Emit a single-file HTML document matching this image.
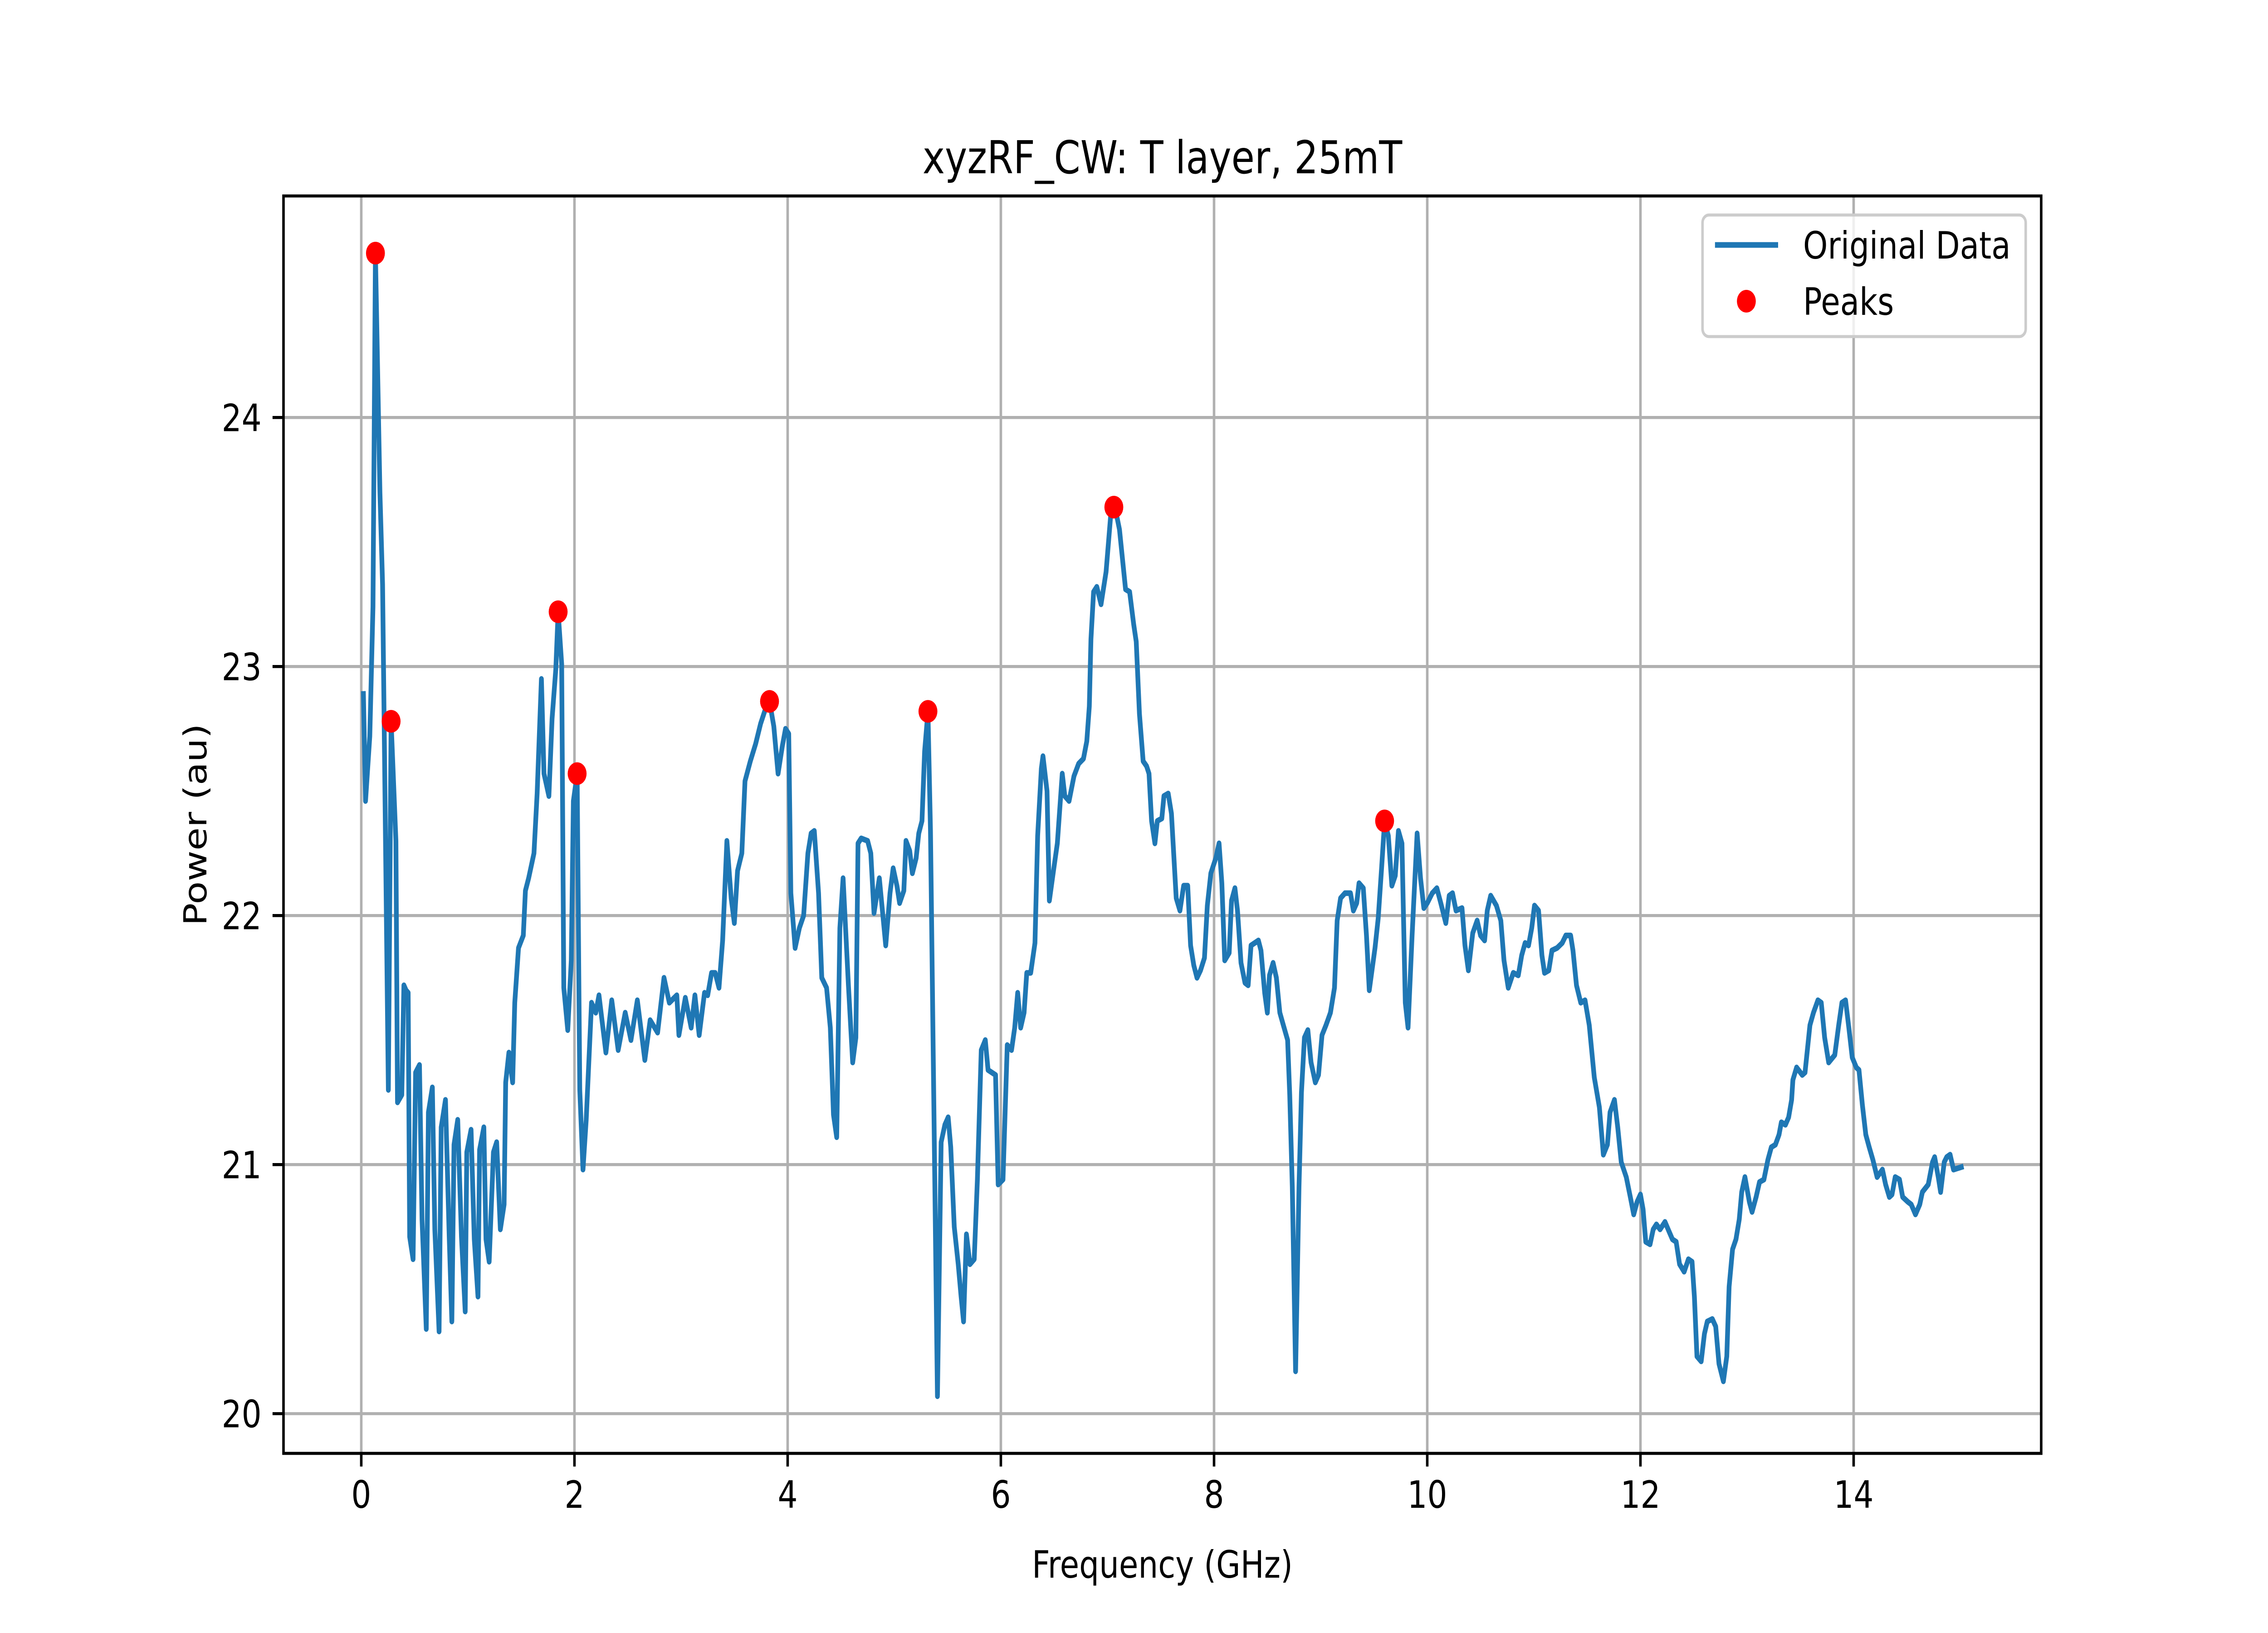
<!DOCTYPE html>
<html><head><meta charset="utf-8"><style>html,body{margin:0;padding:0;background:#fff;overflow:hidden;width:100%;height:100%}svg{display:block;width:100vw;height:100vh}</style></head>
<body>
<svg id="chart" xmlns="http://www.w3.org/2000/svg" viewBox="0 0 6000 3600" preserveAspectRatio="none" font-family="'DejaVu Sans','Liberation Sans',sans-serif">
<rect x="0" y="0" width="6000" height="3600" fill="#fff"/>
<text x="3075" y="382" font-size="100" text-anchor="middle">xyzRF_CW: T layer, 25mT</text>
<g id="grid"></g>
<g id="ticks"></g>
<g id="plot"></g>
<rect x="750" y="432" width="4650" height="2772" fill="none" stroke="#000" stroke-width="6.7"/>
<text x="3075" y="3478" font-size="83" text-anchor="middle">Frequency (GHz)</text>
<text x="0" y="0" font-size="83" text-anchor="middle" transform="translate(546,1818) rotate(-90)">Power (au)</text>
<g>
<rect x="4504" y="474" width="855" height="268" rx="17" fill="#fff" fill-opacity="0.8" stroke="#cccccc" stroke-width="6.7"/>
<line x1="4537" y1="540" x2="4704" y2="540" stroke="#1f77b4" stroke-width="12.5"/>
<text x="4770" y="570" font-size="83">Original Data</text>
<circle cx="4620" cy="664" r="25" fill="#ff0000"/>
<text x="4770" y="694" font-size="83">Peaks</text>
</g>
</svg>
<script>
const freqs = [0.02,0.04,0.08,0.11,0.133,0.175,0.2,0.254,0.28,0.325,0.34,0.38,0.40,0.42,0.44,0.454,0.486,0.51,0.546,0.57,0.61,0.63,0.667,0.69,0.73,0.75,0.79,0.825,0.85,0.87,0.905,0.94,0.975,0.99,1.03,1.06,1.095,1.11,1.15,1.17,1.20,1.24,1.27,1.305,1.34,1.355,1.385,1.42,1.44,1.475,1.52,1.54,1.57,1.62,1.65,1.69,1.714,1.76,1.79,1.825,1.847,1.88,1.90,1.937,1.97,1.99,2.025,2.05,2.08,2.11,2.16,2.2,2.23,2.295,2.35,2.41,2.476,2.53,2.59,2.66,2.71,2.78,2.84,2.89,2.96,2.98,3.04,3.095,3.13,3.17,3.22,3.25,3.286,3.32,3.356,3.39,3.43,3.47,3.50,3.53,3.57,3.60,3.65,3.70,3.746,3.80,3.83,3.87,3.91,3.95,3.98,4.01,4.03,4.07,4.11,4.15,4.19,4.22,4.25,4.29,4.32,4.365,4.40,4.43,4.46,4.49,4.52,4.57,4.61,4.64,4.66,4.69,4.75,4.78,4.81,4.86,4.92,4.96,4.99,5.025,5.05,5.09,5.11,5.145,5.17,5.205,5.23,5.26,5.285,5.316,5.34,5.405,5.44,5.475,5.506,5.53,5.563,5.60,5.627,5.65,5.677,5.71,5.75,5.78,5.816,5.854,5.88,5.95,5.975,6.02,6.06,6.10,6.13,6.158,6.186,6.218,6.243,6.28,6.32,6.345,6.38,6.395,6.433,6.455,6.497,6.53,6.576,6.60,6.64,6.686,6.73,6.775,6.806,6.83,6.845,6.87,6.90,6.94,6.987,7.035,7.06,7.08,7.113,7.17,7.208,7.246,7.27,7.30,7.335,7.367,7.39,7.414,7.445,7.468,7.51,7.53,7.57,7.60,7.645,7.68,7.715,7.753,7.78,7.81,7.84,7.873,7.91,7.937,7.97,8.016,8.047,8.073,8.10,8.142,8.164,8.196,8.22,8.253,8.29,8.32,8.347,8.416,8.44,8.475,8.50,8.52,8.554,8.585,8.617,8.65,8.69,8.71,8.734,8.765,8.797,8.82,8.848,8.88,8.91,8.95,8.98,9.013,9.05,9.092,9.13,9.155,9.187,9.228,9.28,9.307,9.338,9.36,9.40,9.43,9.456,9.51,9.54,9.573,9.60,9.635,9.668,9.70,9.73,9.763,9.794,9.82,9.858,9.905,9.937,9.968,10.0,10.047,10.09,10.127,10.174,10.206,10.237,10.27,10.326,10.354,10.386,10.427,10.468,10.50,10.538,10.563,10.595,10.649,10.69,10.72,10.76,10.807,10.854,10.886,10.918,10.95,10.98,11.006,11.044,11.076,11.10,11.14,11.17,11.218,11.266,11.30,11.345,11.367,11.40,11.44,11.48,11.52,11.567,11.615,11.652,11.69,11.715,11.756,11.787,11.82,11.867,11.905,11.937,11.968,12.0,12.025,12.05,12.09,12.12,12.15,12.184,12.23,12.27,12.30,12.335,12.367,12.41,12.45,12.484,12.506,12.53,12.57,12.60,12.627,12.674,12.706,12.737,12.778,12.81,12.832,12.864,12.896,12.927,12.95,12.98,13.022,13.047,13.085,13.117,13.158,13.196,13.228,13.266,13.30,13.322,13.36,13.39,13.418,13.43,13.465,13.518,13.544,13.59,13.623,13.665,13.696,13.728,13.766,13.823,13.86,13.89,13.924,13.955,13.987,14.025,14.05,14.082,14.114,14.146,14.18,14.22,14.27,14.30,14.335,14.36,14.39,14.43,14.46,14.51,14.54,14.58,14.62,14.645,14.70,14.74,14.76,14.794,14.816,14.85,14.873,14.905,14.937,15.01];
const power = [22.89,22.46,22.72,23.24,24.66,23.70,23.33,21.30,22.78,22.30,21.25,21.28,21.72,21.70,21.69,20.71,20.62,21.37,21.40,20.78,20.34,21.21,21.31,20.74,20.33,21.15,21.26,20.71,20.37,21.08,21.18,20.71,20.41,21.05,21.14,20.70,20.47,21.06,21.15,20.70,20.61,21.05,21.09,20.74,20.84,21.33,21.45,21.33,21.65,21.87,21.92,22.10,22.15,22.25,22.49,22.95,22.57,22.48,22.79,22.99,23.22,23.01,21.71,21.54,21.82,22.46,22.57,21.30,20.98,21.18,21.65,21.61,21.68,21.45,21.66,21.46,21.61,21.50,21.66,21.42,21.58,21.53,21.75,21.65,21.68,21.52,21.67,21.55,21.68,21.52,21.69,21.68,21.77,21.77,21.71,21.90,22.30,22.07,21.97,22.18,22.25,22.54,22.62,22.69,22.77,22.84,22.86,22.76,22.57,22.68,22.75,22.73,22.09,21.87,21.95,22.00,22.25,22.33,22.34,22.09,21.75,21.71,21.55,21.20,21.11,21.95,22.15,21.72,21.41,21.51,22.29,22.31,22.30,22.25,22.01,22.15,21.88,22.09,22.19,22.12,22.05,22.10,22.30,22.26,22.17,22.23,22.33,22.38,22.66,22.82,22.34,20.07,21.09,21.16,21.19,21.07,20.75,20.60,20.47,20.37,20.72,20.60,20.62,20.94,21.46,21.50,21.38,21.36,20.92,20.94,21.48,21.46,21.55,21.69,21.55,21.61,21.77,21.77,21.89,22.32,22.59,22.64,22.50,22.06,22.19,22.29,22.57,22.48,22.46,22.56,22.61,22.63,22.70,22.84,23.11,23.30,23.32,23.25,23.38,23.63,23.64,23.62,23.55,23.31,23.30,23.17,23.10,22.81,22.62,22.60,22.57,22.38,22.29,22.38,22.39,22.48,22.49,22.41,22.07,22.02,22.12,22.12,21.88,21.80,21.75,21.78,21.83,22.04,22.17,22.23,22.29,22.13,21.82,21.85,22.06,22.11,22.02,21.81,21.73,21.72,21.88,21.90,21.86,21.69,21.61,21.76,21.81,21.75,21.61,21.56,21.50,21.28,20.91,20.17,20.91,21.29,21.51,21.54,21.41,21.33,21.36,21.52,21.56,21.61,21.71,21.98,22.07,22.09,22.09,22.02,22.05,22.13,22.11,21.92,21.70,21.87,21.99,22.20,22.38,22.32,22.12,22.16,22.34,22.29,21.65,21.55,21.92,22.33,22.15,22.03,22.05,22.09,22.11,22.05,21.97,22.08,22.09,22.02,22.03,21.88,21.78,21.93,21.98,21.92,21.90,22.02,22.08,22.04,21.98,21.82,21.71,21.77,21.76,21.84,21.89,21.88,21.95,22.04,22.02,21.84,21.77,21.78,21.86,21.87,21.89,21.92,21.92,21.86,21.72,21.65,21.66,21.56,21.35,21.23,21.04,21.08,21.21,21.26,21.15,21.01,20.95,20.87,20.80,20.85,20.88,20.82,20.69,20.68,20.74,20.76,20.74,20.77,20.73,20.70,20.69,20.60,20.57,20.62,20.61,20.47,20.23,20.21,20.32,20.37,20.38,20.35,20.20,20.13,20.23,20.51,20.66,20.70,20.78,20.89,20.95,20.85,20.81,20.87,20.93,20.94,21.02,21.07,21.08,21.12,21.17,21.16,21.19,21.26,21.34,21.39,21.36,21.37,21.56,21.61,21.66,21.65,21.51,21.41,21.44,21.56,21.65,21.66,21.55,21.43,21.39,21.38,21.24,21.12,21.07,21.02,20.95,20.98,20.92,20.87,20.88,20.95,20.94,20.87,20.85,20.84,20.80,20.84,20.89,20.92,21.01,21.03,20.95,20.89,21.01,21.03,21.04,20.98,20.99];
const peakFreqs = [0.133,0.28,1.847,2.025,3.83,5.316,7.06,9.6];
const peakPower = [24.66,22.78,23.22,22.57,22.86,22.82,23.64,22.38];
const xTicks = [0,2,4,6,8,10,12,14];
const yTicks = [20,21,22,23,24];

const NS = 'http://www.w3.org/2000/svg';
const L = 750, R = 5400, T = 432, B = 3204;
const xmin0 = Math.min(...freqs), xmax0 = Math.max(...freqs);
const ymin0 = Math.min(...power, ...peakPower), ymax0 = Math.max(...power, ...peakPower);
const xm = (xmax0 - xmin0) * 0.05, ym = (ymax0 - ymin0) * 0.05;
const xlo = xmin0 - xm, xhi = xmax0 + xm, ylo = ymin0 - ym, yhi = ymax0 + ym;
function xs(v) { return L + (v - xlo) / (xhi - xlo) * (R - L); }
function ys(v) { return B - (v - ylo) / (yhi - ylo) * (B - T); }
function mk(tag, attrs, parent) {
  const e = document.createElementNS(NS, tag);
  for (const k in attrs) e.setAttribute(k, attrs[k]);
  parent.appendChild(e);
  return e;
}
const grid = document.getElementById('grid');
const ticks = document.getElementById('ticks');
const plot = document.getElementById('plot');
xTicks.forEach(function (t) {
  const x = xs(t);
  const g = mk('line', {x1: x, y1: T, x2: x, y2: B, stroke: '#b0b0b0', 'stroke-width': 6.7}, grid);
  
  
  const tk = mk('line', {x1: x, y1: B, x2: x, y2: B + 29, stroke: '#000', 'stroke-width': 6.7}, ticks);
  
  
  const tx = mk('text', {x: x, y: B + 58 + 62, 'font-size': 83, 'text-anchor': 'middle'}, ticks);
  tx.textContent = String(t);
  
  
});
yTicks.forEach(function (t) {
  const y = ys(t);
  const g = mk('line', {x1: L, y1: y, x2: R, y2: y, stroke: '#b0b0b0', 'stroke-width': 6.7}, grid);
  
  
  const tk = mk('line', {x1: L - 29, y1: y, x2: L, y2: y, stroke: '#000', 'stroke-width': 6.7}, ticks);
  
  
  const tx = mk('text', {x: L - 58, y: y + 30, 'font-size': 83, 'text-anchor': 'end'}, ticks);
  tx.textContent = String(t);
  
  
});
let d = '';
freqs.forEach(function (f, i) { d += (i ? 'L' : 'M') + xs(f).toFixed(1) + ',' + ys(power[i]).toFixed(1); });
const line = mk('path', {d: d, fill: 'none', stroke: '#1f77b4', 'stroke-width': 12.5, 'stroke-linejoin': 'round', 'stroke-linecap': 'square'}, plot);


peakFreqs.forEach(function (f, i) {
  const c = mk('circle', {cx: xs(f), cy: ys(peakPower[i]), r: 25, fill: '#ff0000'}, plot);
  
  
});
</script>
</body></html>
